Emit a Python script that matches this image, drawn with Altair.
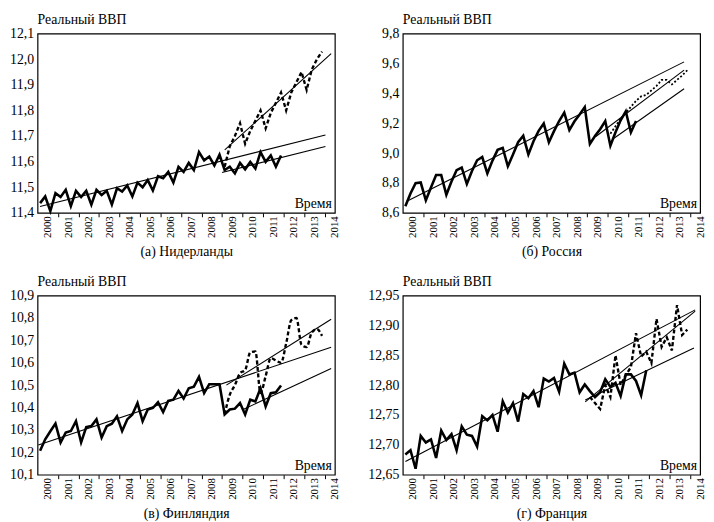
import altair as alt
import pandas as pd

FONT = "Liberation Serif"
YEARS = list(range(2000, 2015))

# ---------------- (а) Нидерланды ----------------
nl_fact = [11.438, 11.464, 11.407, 11.477,
           11.462, 11.490, 11.426, 11.486,
           11.462, 11.486, 11.432, 11.490,
           11.470, 11.486, 11.432, 11.496,
           11.483, 11.507, 11.464, 11.518,
           11.500, 11.528, 11.487, 11.543,
           11.535, 11.560, 11.518, 11.580,
           11.560, 11.595, 11.567, 11.637,
           11.605, 11.620, 11.585, 11.627,
           11.567, 11.580, 11.554, 11.595,
           11.570, 11.599, 11.573, 11.637,
           11.599, 11.624, 11.580, 11.624]
nl_fore_start = 36
nl_fore = [11.58, 11.66, 11.70, 11.75, 11.67, 11.72, 11.76, 11.80, 11.73, 11.79,
           11.83, 11.87, 11.80, 11.87, 11.91, 11.95, 11.88, 11.96, 12.00, 12.03]
nl_trend_t = [[2000.12, 2014.04], [2009.13, 2014.32], [2009.0, 2014.04]]
nl_trend_v = [[11.425, 11.704], [11.646, 12.022], [11.558, 11.659]]
nl_yticks = [11.4, 11.5, 11.6, 11.7, 11.8, 11.9, 12.0, 12.1]

# ---------------- (б) Россия ----------------
ru_fact = [8.644, 8.73, 8.798, 8.803,
           8.684, 8.77, 8.853, 8.853,
           8.721, 8.81, 8.886, 8.903,
           8.793, 8.88, 8.952, 8.974,
           8.864, 8.95, 9.022, 9.035,
           8.912, 8.99, 9.073, 9.116,
           8.991, 9.08, 9.149, 9.198,
           9.073, 9.147, 9.215, 9.271,
           9.154, 9.213, 9.259, 9.308,
           9.062, 9.114, 9.16, 9.215,
           9.050, 9.14, 9.22, 9.28,
           9.139, 9.215]
ru_fore_start = 40
ru_fore = [9.13, 9.18, 9.23, 9.27, 9.31, 9.35, 9.38, 9.39, 9.42, 9.45,
           9.49, 9.49, 9.46, 9.49, 9.52, 9.555]
ru_trend_t = [[2000.2, 2013.72], [2009.4, 2013.72], [2010.3, 2013.72]]
ru_trend_v = [[8.677, 9.611], [9.11, 9.556], [9.10, 9.431]]
ru_yticks = [8.6, 8.8, 9.0, 9.2, 9.4, 9.6, 9.8]

# ---------------- (в) Финляндия ----------------
fi_fact = [10.207, 10.258, 10.294, 10.328,
           10.244, 10.288, 10.295, 10.339,
           10.244, 10.313, 10.317, 10.347,
           10.266, 10.317, 10.328, 10.361,
           10.295, 10.347, 10.369, 10.420,
           10.339, 10.391, 10.398, 10.424,
           10.380, 10.430, 10.435, 10.474,
           10.440, 10.486, 10.493, 10.537,
           10.464, 10.504, 10.504, 10.504,
           10.369, 10.391, 10.395, 10.420,
           10.369, 10.435, 10.427, 10.486,
           10.405, 10.464, 10.468, 10.498]
fi_fore_start = 36
fi_fore = [10.37, 10.457, 10.50, 10.553, 10.567, 10.646, 10.650, 10.465, 10.54, 10.62,
           10.61, 10.60, 10.686, 10.79, 10.80, 10.68, 10.67, 10.735, 10.75, 10.72]
fi_trend_t = [[2000.04, 2014.32], [2009.21, 2014.32], [2010.0, 2014.32]]
fi_trend_v = [[10.233, 10.669], [10.50, 10.794], [10.39, 10.574]]
fi_yticks = [10.1, 10.2, 10.3, 10.4, 10.5, 10.6, 10.7, 10.8, 10.9]

# ---------------- (г) Франция ----------------
fr_fact = [12.684, 12.691, 12.660, 12.715,
           12.704, 12.709, 12.678, 12.724,
           12.708, 12.718, 12.691, 12.731,
           12.717, 12.715, 12.697, 12.748,
           12.741, 12.750, 12.722, 12.773,
           12.754, 12.770, 12.739, 12.785,
           12.778, 12.790, 12.763, 12.811,
           12.806, 12.812, 12.789, 12.836,
           12.818, 12.821, 12.788, 12.801,
           12.790, 12.780, 12.788, 12.810,
           12.797, 12.804, 12.782, 12.818,
           12.818, 12.807, 12.783, 12.825]
fr_fore_start = 36
fr_fore = [12.78, 12.77, 12.76, 12.80, 12.78, 12.85, 12.80, 12.817, 12.83, 12.887,
           12.848, 12.856, 12.837, 12.911, 12.864, 12.880, 12.858, 12.934, 12.884, 12.893]
fr_trend_t = [[2000.13, 2014.26], [2008.9, 2014.26], [2008.9, 2014.2]]
fr_trend_v = [[12.672, 12.926], [12.772, 12.924], [12.775, 12.862]]
fr_yticks = [12.65, 12.70, 12.75, 12.80, 12.85, 12.90, 12.95]


def qt(i):
    return 2000 + (i + 0.5) / 4


def panel(fact, fore, fore_start, trend_t, trend_v, yticks, yfmt, caption,
          extent, dash, dash_w, interp):
    fact_df = pd.DataFrame({"t": [qt(i) for i in range(len(fact))], "v": fact})
    fore_df = pd.DataFrame({"t": [qt(fore_start + i) for i in range(len(fore))], "v": fore})
    rows = []
    for k, (ts, vs) in enumerate(zip(trend_t, trend_v)):
        for t, v in zip(ts, vs):
            rows.append({"t": t, "v": v, "k": k})
    trend_df = pd.DataFrame(rows)

    xs = alt.Scale(domain=[2000, 2014.5], nice=False, zero=False)
    ys = alt.Scale(domain=[yticks[0], yticks[-1]], nice=False, zero=False)
    yaxis = alt.Axis(values=yticks,
                     labelExpr=f"replace(format(datum.value, '{yfmt}'), '.', ',')",
                     title=None, ticks=False, domain=False, grid=False,
                     labelFont=FONT, labelFontSize=14, labelPadding=4,
                     labelFlush=False, labelBaseline="middle",
                     labelColor="black", minExtent=extent, maxExtent=extent)
    xlab = alt.Axis(values=[y + 0.5 for y in YEARS], labelExpr="floor(datum.value)",
                    ticks=False, domain=False, grid=False, labelAngle=270,
                    labelFont=FONT, labelFontSize=11, labelPadding=3,
                    labelFlush=False, labelColor="black", labelOverlap=False,
                    title=caption, titleFont=FONT, titleFontSize=14,
                    titleFontWeight="normal", titleColor="black", titlePadding=7,
                    orient="bottom")
    xtick = alt.Axis(values=YEARS[1:], labels=False, ticks=True, tickSize=4,
                     tickColor="black", domain=False, grid=False, title=None,
                     orient="bottom")

    fact_l = alt.Chart(fact_df).mark_line(color="black", strokeWidth=2.6).encode(
        x=alt.X("t:Q", scale=xs, axis=xlab),
        y=alt.Y("v:Q", scale=ys, axis=yaxis))
    fore_l = alt.Chart(fore_df).mark_line(color="black", strokeWidth=dash_w,
                                          strokeDash=dash, interpolate=interp).encode(
        x=alt.X("t:Q", scale=xs, axis=None),
        y=alt.Y("v:Q", scale=ys, axis=yaxis))
    trend_l = alt.Chart(trend_df).mark_line(color="black", strokeWidth=1.1).encode(
        x=alt.X("t:Q", scale=xs, axis=xtick),
        y=alt.Y("v:Q", scale=ys, axis=yaxis),
        detail="k:N")
    text_l = alt.Chart(pd.DataFrame({"s": ["Время"]})).mark_text(
        align="right", baseline="alphabetic", font=FONT, fontSize=14, color="black"
    ).encode(text="s:N", x=alt.value(299), y=alt.value(177))

    return alt.layer(fact_l, fore_l, trend_l, text_l).resolve_axis(
        x="independent").properties(
        width=302, height=182,
        title=alt.Title("Реальный ВВП", anchor="start", frame="group", font=FONT,
                        fontSize=14, fontWeight="normal", color="black", offset=0))


pa = panel(nl_fact, nl_fore, nl_fore_start, nl_trend_t, nl_trend_v, nl_yticks, ".1f",
           "(а) Нидерланды", 28, [4, 2.5], 2.4, "linear")
pb = panel(ru_fact, ru_fore, ru_fore_start, ru_trend_t, ru_trend_v, ru_yticks, ".1f",
           "(б) Россия", 40, [2, 2], 1.8, "linear")
pc = panel(fi_fact, fi_fore, fi_fore_start, fi_trend_t, fi_trend_v, fi_yticks, ".1f",
           "(в) Финляндия", 28, [4, 2.5], 2.4, "monotone")
pd_ = panel(fr_fact, fr_fore, fr_fore_start, fr_trend_t, fr_trend_v, fr_yticks, ".2f",
            "(г) Франция", 40, [4, 2.5], 2.4, "linear")

chart = alt.hconcat(
    alt.vconcat(pa, pc, spacing=15),
    alt.vconcat(pb, pd_, spacing=15),
    spacing=22,
).properties(
    padding={"left": 0, "top": 0, "right": 0, "bottom": 0},
    background="white",
).configure_view(stroke="black", strokeWidth=1.2)

chart.save("out.html", embed_options={"renderer": "svg", "actions": False})
